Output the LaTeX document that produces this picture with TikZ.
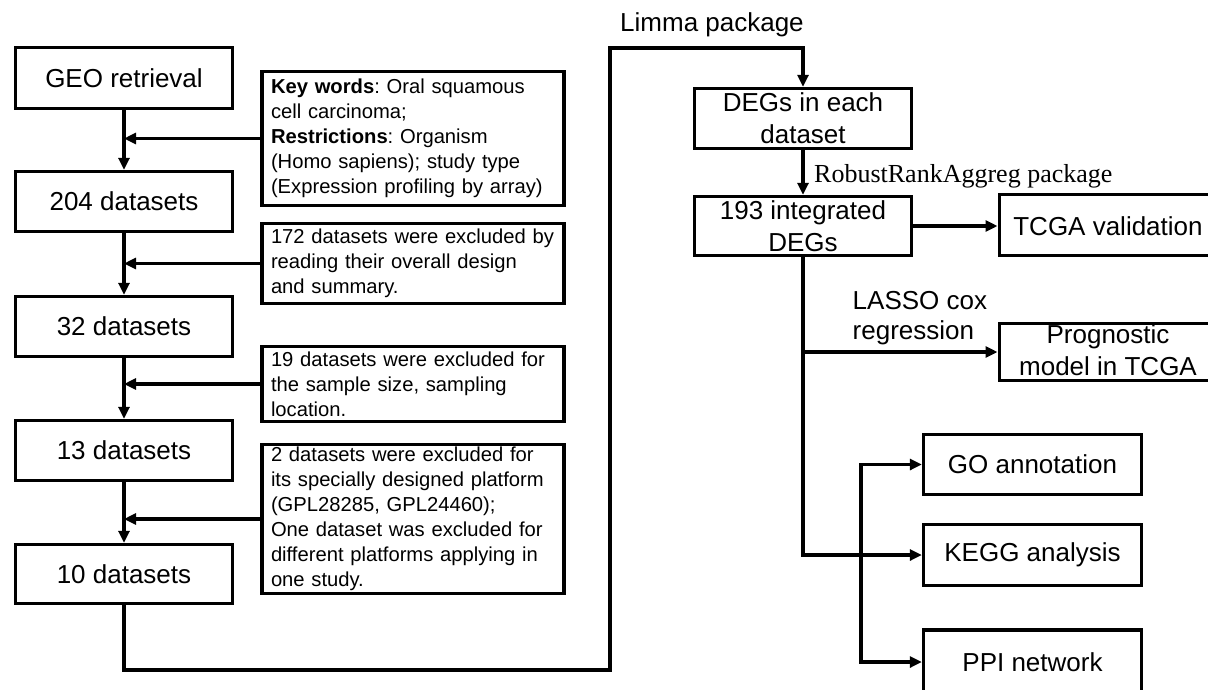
\documentclass[tikz,border=0pt]{standalone}
\usepackage{fontspec}
\setmainfont{Liberation Sans}
\newfontfamily\serifrm{Liberation Serif}
\usetikzlibrary{arrows.meta}
\frenchspacing
\begin{document}
\begin{tikzpicture}[x=1pt,y=-1pt,
 line width=3.4pt,
 arr/.style={-{Triangle[length=12pt,width=11pt]}},
 arrboth/.style={{Triangle[length=12pt,width=11pt]}-{Triangle[length=12pt,width=11pt]}},
 bigbox/.style={draw,line width=3.4pt,minimum width=217pt,minimum height=61pt,inner sep=0pt,font=\fontsize{26}{32}\selectfont,align=center},
 sidebox/.style={draw,line width=3.4pt,minimum width=302pt,text width=284pt,inner xsep=9pt,inner ysep=0pt,align=left,font=\fontsize{20.2}{25}\selectfont},
 lbl/.style={inner sep=0pt,font=\fontsize{26}{32}\selectfont}]
\useasboundingbox (0,0) rectangle (1208,689);

% left column
\node[bigbox] (geo)  at (124,78)    {GEO retrieval};
\node[bigbox,minimum height=60pt] (n204) at (124,201.5) {204 datasets};
\node[bigbox,minimum height=60pt] (n32)  at (124,326.5) {32 datasets};
\node[bigbox,minimum height=60pt] (n13)  at (124,450.5) {13 datasets};
\node[bigbox,minimum height=59pt] (n10)  at (124,574)   {10 datasets};

% side boxes
\node[sidebox,minimum height=134pt] (kw) at (413,138.5)
 {\textbf{Key words}: Oral squamous\\cell carcinoma;\\\textbf{Restrictions}: Organism\\(Homo sapiens); study type\\(Expression profiling by array)};
\node[sidebox,minimum height=80pt] (ex172) at (413,263.5)
 {172 datasets were excluded by\\reading their overall design\\and summary.};
\node[sidebox,minimum height=75pt] (ex19) at (413,384)
 {19 datasets were excluded for\\the sample size, sampling\\location.};
\node[sidebox,minimum height=149pt] (ex2) at (413,519)
 {2 datasets were excluded for\\its specially designed platform\\(GPL28285, GPL24460);\\One dataset was excluded for\\different platforms applying in\\one study.};

\draw[arr] (geo) -- (n204);
\draw[arr] (n204) -- (n32);
\draw[arr] (n32) -- (n13);
\draw[arr] (n13) -- (n10);
\draw[arr] (kw.west) -- (kw.west -| geo.south);
\draw[arr] (ex172.west) -- (ex172.west -| geo.south);
\draw[arr] (ex19.west) -- (ex19.west -| geo.south);
\draw[arr] (ex2.west) -- (ex2.west -| geo.south);

% right column
\node[bigbox,minimum height=60pt] (degs) at (803,118.5) {DEGs in each\\dataset};
\node[bigbox,minimum height=59pt] (n193) at (803,226) {193 integrated\\DEGs};
\node[bigbox,minimum height=61pt,anchor=west] (tcga) at (997.5,225) {};
\node[lbl] (tcgat) at (1108,226) {TCGA validation};
\node[bigbox,minimum height=57pt,anchor=west] (prog) at (997.5,352) {};
\node[lbl,align=center] (progt) at (1108,350) {Prognostic\\model in TCGA};
\node[bigbox,minimum width=218pt,minimum height=60pt] (go)   at (1032.5,464.5) {GO annotation};
\node[bigbox,minimum width=218pt,minimum height=61pt] (kegg) at (1032.5,555)   {KEGG analysis};
\node[bigbox,minimum width=218pt,minimum height=64pt] (ppi)  at (1032.5,662) {PPI network};

% labels
\node[lbl,anchor=west] (limma) at (618.5,25) {Limma package};
\node[inner sep=0pt,anchor=base west,font=\serifrm\fontsize{26}{32}\selectfont] (rra) at (812.5,182) {RobustRankAggreg package};
\node[lbl,anchor=west,align=left,font=\fontsize{26}{30}\selectfont] (lasso) at (851,318) {LASSO cox\\regression};

% connectors
\coordinate (c1) at (124,670);
\coordinate (c2) at (610,48);
\coordinate (bx) at (861,0);
\draw[arr] (n10.south) -- (c1) -| (c2) -| (degs.north);
\draw[arr] (degs) -- (n193);
\draw[arr] (n193.east) -- (n193.east -| tcga.west);
\draw[arr] (n193.south) |- (kegg.west);
\draw[arr] (prog.west -| n193.south) -- (prog.west);
\draw[arrboth] (go.west) -- (go.west -| bx) |- (ppi.west);
\end{tikzpicture}
\end{document}
